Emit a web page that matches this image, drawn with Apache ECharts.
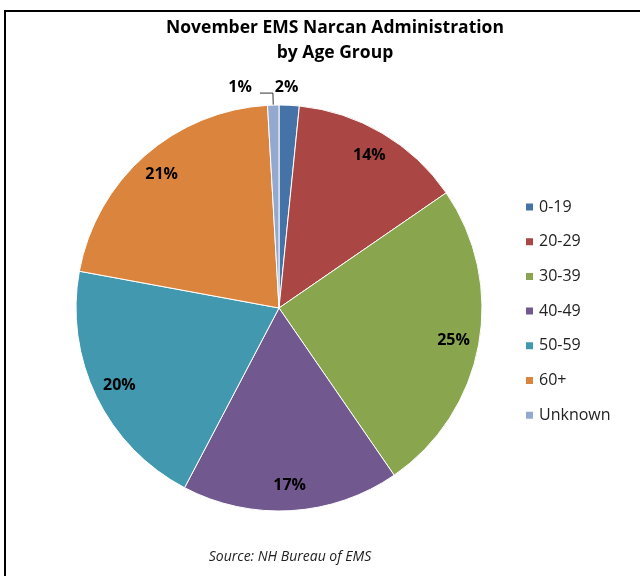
<!DOCTYPE html>
<html>
<head>
<meta charset="utf-8">
<script src="https://cdn.jsdelivr.net/npm/echarts@6/dist/echarts.min.js"></script>
<style>
  html, body { margin: 0; padding: 0; background: #fff; }
  #chart-container { width: 640px; height: 576px; }
</style>
</head>
<body>
<div id="chart-container"></div>
<script>
const categories = ['0-19', '20-29', '30-39', '40-49', '50-59', '60+', 'Unknown'];
const shares = [1.6, 13.8, 25.0, 17.3, 20.2, 21.2, 0.9];
const sliceColors = ['#4572A7', '#AA4643', '#89A54E', '#71588F', '#4198AF', '#DB843D', '#93A9CF'];

const FONT = '"Open Sans", sans-serif';
const center = [279, 308];

const dom = document.getElementById('chart-container');
const myChart = echarts.init(dom, null, { renderer: 'canvas' });

const sliceData = categories.map((name, i) => ({
  name: name,
  value: shares[i],
  itemStyle: { color: sliceColors[i] },
}));

// labels sit on a transparent ring so inside labels land near the rim
const labelData = categories.map((name, i) => {
  const small = shares[i] < 3;
  const item = { name: name, value: shares[i] };
  if (small) {
    item.label = { position: 'outside' };
    item.labelLine = i === 0
      ? { show: false, length: 12, length2: 0 }
      : { show: true, length: 12, length2: 13, lineStyle: { color: '#333', width: 1 } };
  }
  return item;
});

const option = {
  animation: false,
  title: [
    {
      text: 'November EMS Narcan Administration\nby Age Group',
      left: 330,
      top: 11,
      textAlign: 'center',
      textStyle: { fontFamily: FONT, fontWeight: 'bold', fontSize: 17.5, lineHeight: 25, color: '#000' },
    },
    {
      text: 'Source: NH Bureau of EMS',
      left: 285,
      top: 545,
      textAlign: 'center',
      textStyle: { fontFamily: FONT, fontStyle: 'italic', fontWeight: 'normal', fontSize: 14, color: '#222' },
    },
  ],
  legend: {
    orient: 'vertical',
    left: 519,
    top: 194,
    icon: 'rect',
    itemWidth: 9,
    itemHeight: 9,
    itemGap: 18.7,
    selectedMode: false,
    data: categories,
    textStyle: { fontFamily: FONT, fontSize: 16, lineHeight: 16, color: '#222' },
  },
  graphic: [
    {
      type: 'rect',
      silent: true,
      shape: { x: 5, y: 11, width: 700, height: 700 },
      style: { fill: 'none', stroke: '#000', lineWidth: 2 },
    },
  ],
  series: [
    {
      type: 'pie',
      center: center,
      radius: 203,
      startAngle: 90,
      clockwise: true,
      silent: true,
      label: { show: false },
      labelLine: { show: false },
      itemStyle: { borderColor: '#fff', borderWidth: 1 },
      emphasis: { disabled: true },
      data: sliceData,
    },
    {
      type: 'pie',
      center: center,
      radius: [146, 203],
      startAngle: 90,
      clockwise: true,
      silent: true,
      avoidLabelOverlap: false,
      itemStyle: { color: 'transparent', borderWidth: 0 },
      emphasis: { disabled: true },
      label: {
        show: true,
        position: 'inside',
        formatter: (p) => Math.round(p.percent) + '%',
        fontFamily: FONT,
        fontWeight: 'bold',
        fontSize: 16,
        color: '#000',
      },
      labelLayout: (p) => {
        if (p.dataIndex === 0) return { dx: -20, dy: -6 };
        if (p.dataIndex === 6) return { dx: -3, dy: -6 };
        return {};
      },
      data: labelData,
    },
  ],
};

myChart.setOption(option);
window.addEventListener('resize', myChart.resize);
</script>
</body>
</html>
